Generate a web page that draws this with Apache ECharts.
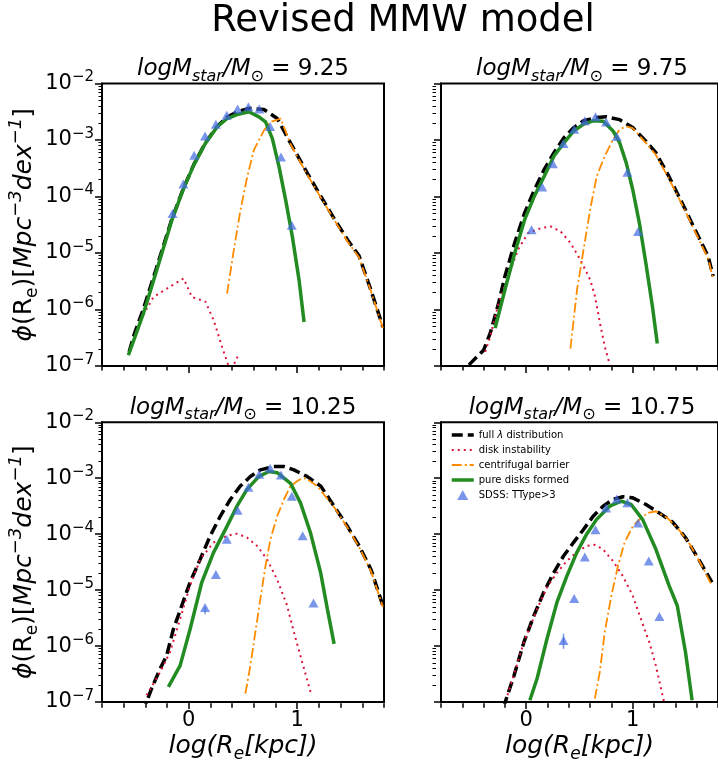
<!DOCTYPE html>
<html><head><meta charset="utf-8">
<script src="https://cdn.jsdelivr.net/npm/echarts@6/dist/echarts.min.js"></script>
<style>html,body{margin:0;padding:0;background:#fff}#c{width:718px;height:764px}</style>
</head><body><div id="c"></div>
<script>
// ---------------- data: [log(Re/kpc), log10 phi] ----------------
const panelMasses = ['9.25', '9.75', '10.25', '10.75'];

const full_925 = [[-0.55,-6.75],[-0.50,-6.42],[-0.42,-6.00],[-0.30,-5.28],[-0.156,-4.40],[-0.048,-3.85],[0.045,-3.44],[0.153,-3.05],[0.261,-2.76],[0.353,-2.60],[0.446,-2.50],[0.554,-2.44],[0.693,-2.46],[0.816,-2.62],[0.94,-3.06],[1.094,-3.59],[1.218,-4.00],[1.34,-4.39],[1.465,-4.77],[1.57,-5.05],[1.68,-5.66],[1.79,-6.31]];
const disk_925 = [[-0.449,-6.19],[-0.326,-5.78],[-0.202,-5.63],[-0.048,-5.45],[0.029,-5.78],[0.153,-5.86],[0.23,-6.19],[0.307,-6.66],[0.384,-7.1],[0.461,-6.79]];
const cent_925 = [[0.353,-5.72],[0.415,-4.95],[0.477,-4.24],[0.539,-3.65],[0.60,-3.18],[0.693,-2.83],[0.755,-2.68],[0.847,-2.62],[0.94,-3.08],[1.094,-3.62],[1.218,-4.02],[1.34,-4.41],[1.465,-4.80],[1.57,-5.08],[1.68,-5.68],[1.79,-6.33]];
const pure_925 = [[-0.557,-6.81],[-0.418,-6.07],[-0.295,-5.30],[-0.156,-4.42],[-0.048,-3.86],[0.045,-3.45],[0.153,-3.06],[0.261,-2.77],[0.353,-2.62],[0.446,-2.55],[0.554,-2.50],[0.647,-2.59],[0.708,-2.68],[0.770,-2.97],[0.832,-3.47],[0.893,-4.06],[0.955,-4.71],[1.017,-5.48],[1.063,-6.22]];
const sdss_925 = [[-0.15,-4.30],[-0.05,-3.78],[0.05,-3.27],[0.15,-2.93],[0.25,-2.72],[0.35,-2.56],[0.45,-2.45],[0.55,-2.41],[0.65,-2.45],[0.75,-2.76],[0.85,-3.30],[0.95,-4.51]];
const err_925 = [];

const full_975 = [[-0.538,-6.98],[-0.40,-6.72],[-0.338,-6.42],[-0.26,-5.89],[-0.20,-5.41],[-0.108,-4.82],[-0.015,-4.29],[0.077,-3.88],[0.169,-3.52],[0.262,-3.22],[0.354,-2.96],[0.446,-2.78],[0.538,-2.66],[0.66,-2.60],[0.754,-2.59],[0.877,-2.64],[1.0,-2.78],[1.123,-3.02],[1.215,-3.22],[1.338,-3.64],[1.462,-4.11],[1.585,-4.59],[1.708,-5.06],[1.754,-5.41]];
const disk_975 = [[-0.385,-6.75],[-0.338,-6.48],[-0.26,-5.89],[-0.169,-5.41],[-0.077,-4.94],[0.015,-4.65],[0.138,-4.56],[0.23,-4.53],[0.323,-4.62],[0.415,-4.82],[0.508,-5.12],[0.60,-5.47],[0.646,-5.77],[0.692,-6.24],[0.738,-6.66],[0.785,-6.98]];
const cent_975 = [[0.415,-6.69],[0.477,-5.65],[0.538,-4.94],[0.60,-4.23],[0.662,-3.64],[0.738,-3.28],[0.815,-2.99],[0.877,-2.81],[0.938,-2.76],[1.0,-2.79],[1.123,-3.05],[1.215,-3.26],[1.338,-3.68],[1.462,-4.14],[1.585,-4.62],[1.708,-5.10],[1.754,-5.45]];
const pure_975 = [[-0.292,-6.33],[-0.20,-5.65],[-0.108,-5.00],[-0.015,-4.41],[0.077,-3.99],[0.169,-3.64],[0.262,-3.28],[0.354,-3.05],[0.446,-2.84],[0.538,-2.72],[0.63,-2.66],[0.723,-2.67],[0.815,-2.84],[0.877,-3.05],[0.938,-3.40],[1.0,-3.88],[1.062,-4.47],[1.123,-5.18],[1.185,-5.95],[1.23,-6.60]];
const sdss_975 = [[0.05,-4.59],[0.15,-3.83],[0.25,-3.42],[0.35,-3.06],[0.45,-2.81],[0.55,-2.66],[0.65,-2.59],[0.75,-2.68],[0.85,-2.94],[0.95,-3.57],[1.05,-4.62]];
const err_975 = [];

const full_1025 = [[-0.42,-7.2],[-0.389,-7.0],[-0.343,-6.76],[-0.265,-6.41],[-0.204,-6.17],[-0.142,-5.70],[-0.065,-5.28],[0.012,-4.86],[0.105,-4.45],[0.198,-4.03],[0.29,-3.68],[0.383,-3.38],[0.475,-3.14],[0.568,-2.97],[0.66,-2.85],[0.784,-2.79],[0.877,-2.79],[0.969,-2.85],[1.093,-2.97],[1.216,-3.14],[1.34,-3.50],[1.463,-3.86],[1.571,-4.21],[1.68,-4.63],[1.79,-5.28]];
const disk_1025 = [[-0.389,-6.88],[-0.265,-6.47],[-0.173,-6.11],[-0.08,-5.52],[0.012,-4.92],[0.105,-4.45],[0.228,-4.15],[0.352,-4.03],[0.444,-3.99],[0.537,-4.06],[0.63,-4.21],[0.722,-4.45],[0.815,-4.81],[0.907,-5.28],[0.969,-5.75],[1.046,-6.29],[1.123,-6.82]];
const cent_1025 = [[0.522,-6.85],[0.568,-6.35],[0.614,-5.75],[0.66,-5.16],[0.707,-4.57],[0.753,-4.09],[0.815,-3.68],[0.877,-3.38],[0.938,-3.14],[1.015,-3.03],[1.077,-3.00],[1.185,-3.14],[1.34,-3.52],[1.463,-3.88],[1.571,-4.23],[1.68,-4.66],[1.79,-5.30]];
const pure_1025 = [[-0.188,-6.73],[-0.08,-6.35],[0.012,-5.70],[0.12,-4.86],[0.228,-4.33],[0.352,-3.86],[0.444,-3.50],[0.537,-3.20],[0.645,-2.97],[0.738,-2.88],[0.815,-2.90],[0.938,-3.09],[1.03,-3.44],[1.123,-3.98],[1.216,-4.69],[1.278,-5.34],[1.34,-5.96]];
const sdss_1025 = [[0.15,-5.31],[0.25,-4.72],[0.35,-4.09],[0.45,-3.57],[0.55,-3.16],[0.65,-2.93],[0.75,-2.82],[0.85,-2.94],[0.95,-3.32],[1.05,-4.03],[1.15,-5.23]];
const err_1025 = [[0.15,-5.30,-5.43]];

const full_1075 = [[-0.21,-7.1],[-0.192,-6.97],[-0.115,-6.53],[-0.022,-5.93],[0.071,-5.46],[0.164,-5.04],[0.257,-4.69],[0.35,-4.39],[0.443,-4.15],[0.536,-3.92],[0.628,-3.68],[0.721,-3.50],[0.814,-3.38],[0.907,-3.33],[1.0,-3.35],[1.124,-3.47],[1.248,-3.62],[1.372,-3.78],[1.495,-4.06],[1.619,-4.45],[1.743,-4.86]];
const disk_1075 = [[-0.176,-6.88],[-0.022,-5.93],[0.102,-5.34],[0.195,-4.95],[0.288,-4.69],[0.381,-4.48],[0.474,-4.32],[0.567,-4.21],[0.644,-4.19],[0.721,-4.27],[0.814,-4.48],[0.907,-4.75],[1.0,-5.10],[1.077,-5.52],[1.155,-5.93],[1.217,-6.35],[1.279,-6.88],[1.294,-7.0]];
const cent_1075 = [[0.644,-6.94],[0.69,-6.47],[0.737,-5.75],[0.799,-5.10],[0.861,-4.57],[0.923,-4.15],[1.0,-3.86],[1.062,-3.74],[1.139,-3.62],[1.217,-3.59],[1.325,-3.71],[1.433,-3.92],[1.526,-4.15],[1.65,-4.57],[1.743,-4.92]];
const pure_1075 = [[0.034,-6.97],[0.102,-6.58],[0.195,-5.87],[0.288,-5.22],[0.381,-4.75],[0.474,-4.33],[0.567,-4.00],[0.659,-3.74],[0.783,-3.50],[0.892,-3.41],[0.985,-3.47],[1.093,-3.74],[1.217,-4.27],[1.341,-4.92],[1.418,-5.28],[1.495,-6.11],[1.557,-6.97]];
const sdss_1075 = [[0.35,-5.90],[0.45,-5.15],[0.55,-4.41],[0.65,-3.92],[0.75,-3.53],[0.85,-3.37],[0.95,-3.44],[1.05,-3.80],[1.15,-4.48],[1.25,-5.47]];
const err_1075 = [[0.35,-5.78,-6.05]];

// axis ticks
const xMajorTicks = [0, 1];
const xMinorTicks = [-0.8,-0.6,-0.4,-0.2,0,0.2,0.4,0.6,0.8,1.0,1.2,1.4,1.6,1.8];
const yDecadeExps = [-7,-6,-5,-4,-3,-2];
const seriesNames = ['full \u03bb distribution','disk instability','centrifugal barrier','pure disks formed','SDSS: TType>3'];

// ---------------- build ----------------
const panels = [
  {full: full_925, disk: disk_925, cent: cent_925, pure: pure_925, sdss: sdss_925, err: err_925},
  {full: full_975, disk: disk_975, cent: cent_975, pure: pure_975, sdss: sdss_975, err: err_975},
  {full: full_1025, disk: disk_1025, cent: cent_1025, pure: pure_1025, sdss: sdss_1025, err: err_1025},
  {full: full_1075, disk: disk_1075, cent: cent_1075, pure: pure_1075, sdss: sdss_1075, err: err_1075}
];
const FONT = 'DejaVu Sans';
const toPhi = arr => arr.map(p => [p[0], Math.pow(10, p[1])]);
const yMinorLog = [];
yDecadeExps.slice(0, -1).forEach(e => { for (let m = 2; m <= 9; m++) yMinorLog.push(e + Math.log10(m)); });

const gridsPos = [
  {left: 102, top: 83.5, width: 282, height: 282.5},
  {left: 441, top: 83.5, width: 282, height: 282.5},
  {left: 102, top: 422.3, width: 282, height: 281},
  {left: 441, top: 422.3, width: 282, height: 281}
];
const grid = gridsPos.map(g => Object.assign({show: true, borderColor: '#000', borderWidth: 2, backgroundColor: 'transparent', containLabel: false}, g));

const xAxis = [], yAxis = [], series = [];
const tickStyle = {color: '#000', width: 1.5};
const supRich = {
  b: {fontSize: 21, fontFamily: FONT, color: '#000'},
  s: {fontSize: 15, fontFamily: FONT, color: '#000', padding: [0, 0, 12, 0]}
};
const yNameRich = {
  i: {fontSize: 25, fontStyle: 'italic', fontFamily: FONT, color: '#000'},
  n: {fontSize: 25, fontFamily: FONT, color: '#000'},
  sub: {fontSize: 17, fontFamily: FONT, color: '#000', padding: [17, 0, 0, 0]},
  sup: {fontSize: 18, fontStyle: 'italic', fontFamily: FONT, color: '#000', padding: [0, 0, 16, 0]}
};
const xNameRich = {
  i: {fontSize: 25, fontStyle: 'italic', fontFamily: FONT, color: '#000'},
  sub: {fontSize: 17, fontStyle: 'italic', fontFamily: FONT, color: '#000', padding: [17, 0, 0, 0]}
};

const lineStyles = [
  {color: '#000', width: 3.5, type: [11, 5]},
  {color: '#dc143c', width: 2, type: [2, 4]},
  {color: '#ff8c00', width: 1.8, type: [10, 3, 2, 3]},
  {color: '#228b22', width: 3.5, type: 'solid'}
];

panels.forEach((p, i) => {
  const isLeft = (i % 2 === 0), isBottom = i >= 2;
  const g = gridsPos[i];
  // major x (bottom)
  xAxis.push({
    type: 'value', gridIndex: i, min: -0.8, max: 1.8, position: 'bottom',
    axisLine: {show: true, onZero: false, lineStyle: {color: '#000', width: 2}},
    axisTick: {show: true, inside: false, length: 7, lineStyle: tickStyle, customValues: xMajorTicks},
    axisLabel: {show: isBottom, customValues: xMajorTicks, margin: 8, fontSize: 21, fontFamily: FONT, color: '#000',
      formatter: v => String(Math.round(v))},
    splitLine: {show: false},
    name: isBottom ? '{i|log(R}{sub|e}{i|[kpc])}' : '',
    nameLocation: 'middle', nameGap: 27,
    nameTextStyle: {rich: xNameRich}
  });
  // minor x: declared on top, shifted down onto the bottom spine, ticks pointing out
  xAxis.push({
    type: 'value', gridIndex: i, min: -0.8, max: 1.8, position: 'top', offset: -g.height,
    axisLine: {show: false, onZero: false},
    axisTick: {show: true, inside: true, length: 4.5, lineStyle: tickStyle, customValues: xMinorTicks},
    axisLabel: {show: false}, splitLine: {show: false}
  });
  // major y (log)
  yAxis.push({
    type: 'log', logBase: 10, gridIndex: i, min: 1e-7, max: 1e-2, position: 'left',
    axisLine: {show: true, onZero: false, lineStyle: {color: '#000', width: 2}},
    axisTick: {show: true, length: 7, lineStyle: tickStyle},
    axisLabel: {show: isLeft, margin: 8, formatter: v => '{b|10}{s|\u2212' + Math.abs(Math.round(Math.log10(v))) + '}', rich: supRich},
    splitLine: {show: false}, minorTick: {show: false},
    name: isLeft ? '{i|\u03d5}{n|(R}{sub|e}{n|)[}{i|Mpc}{sup|\u22123}{i|dex}{sup|\u22121}{n|]}' : '',
    nameLocation: 'middle', nameRotate: 90, nameGap: 60,
    nameTextStyle: {rich: yNameRich}
  });
  // minor y ticks: declared on right, shifted onto the left spine (log10 units, ticks only)
  yAxis.push({
    type: 'value', gridIndex: i, min: -7, max: -2, position: 'right', offset: -g.width,
    axisLine: {show: false, onZero: false},
    axisTick: {show: true, inside: true, length: 3.5, lineStyle: {color: '#000', width: 1}, customValues: yMinorLog},
    axisLabel: {show: false}, splitLine: {show: false}
  });
  const xi = 2 * i, yi = 2 * i;
  const base = {xAxisIndex: xi, yAxisIndex: yi, symbol: 'none', clip: true, smooth: false};
  const keys = ['full', 'disk', 'cent', 'pure'];
  keys.forEach((k, j) => {
    series.push(Object.assign({}, base, {type: 'line', name: seriesNames[j], data: toPhi(p[k]), z: j === 0 ? 2 : (j === 3 ? 4 : 3),
      lineStyle: lineStyles[j], itemStyle: {color: lineStyles[j].color}}));
  });
  p.err.forEach(e => {
    series.push(Object.assign({}, base, {type: 'line', name: 'SDSS error', data: toPhi([[e[0], e[1]], [e[0], e[2]]]), z: 5,
      lineStyle: {color: '#4169e1', width: 1.5, opacity: 0.7}}));
  });
  series.push({type: 'scatter', name: seriesNames[4], xAxisIndex: xi, yAxisIndex: yi, data: toPhi(p.sdss), z: 6,
    symbol: 'triangle', symbolSize: [10, 9], itemStyle: {color: '#4169e1', opacity: 0.7}});
});

const titles = [{
  text: 'Revised MMW model', left: 403, top: 3, textAlign: 'center', padding: 0,
  textStyle: {fontSize: 37, fontWeight: 'normal', fontFamily: FONT, color: '#000'}
}];
const panelTitleRich = {
  i: {fontSize: 23, fontStyle: 'italic', fontFamily: FONT, color: '#000'},
  sub: {fontSize: 16, fontStyle: 'italic', fontFamily: FONT, color: '#000', padding: [14, 0, 0, 0]},
  sun: {fontSize: 16, fontFamily: FONT, color: '#000', padding: [14, 0, 0, 0]},
  n: {fontSize: 23, fontFamily: FONT, color: '#000'}
};
panelMasses.forEach((m, i) => {
  const g = gridsPos[i];
  titles.push({
    text: '{i|logM}{sub|star}{i|/M}{sun|\u2299}{n| = ' + m + '}',
    left: g.left + 141, top: g.top - 29, textAlign: 'center', padding: 0,
    textStyle: {rich: panelTitleRich, fontSize: 23, fontWeight: 'normal'}
  });
});

const legendData = seriesNames.map((n, k) => k < 4
  ? {name: n, itemStyle: {opacity: 0}, lineStyle: Object.assign({}, lineStyles[k], {opacity: 1})}
  : {name: n, icon: 'path://M5,0L10,9L0,9Z', itemStyle: {color: '#4169e1', opacity: 0.7}});

const chart = echarts.init(document.getElementById('c'), null, {renderer: 'canvas'});
chart.setOption({
  animation: false,
  backgroundColor: '#fff',
  title: titles,
  grid: grid,
  xAxis: xAxis,
  yAxis: yAxis,
  legend: {
    data: legendData, orient: 'vertical', left: 450, top: 430, padding: 0,
    itemGap: 5, itemWidth: 22, itemHeight: 10, symbolKeepAspect: true,
    textStyle: {fontSize: 10, fontFamily: FONT, color: '#000', rich: {
      l: {fontSize: 10, fontStyle: 'italic', fontFamily: FONT, color: '#000'},
      t: {fontSize: 10, fontFamily: FONT, color: '#000'}}},
    formatter: n => n.indexOf('\u03bb') >= 0 ? '{t|full }{l|\u03bb}{t| distribution}' : n,
    selectedMode: false
  },
  series: series
});
</script></body></html>
